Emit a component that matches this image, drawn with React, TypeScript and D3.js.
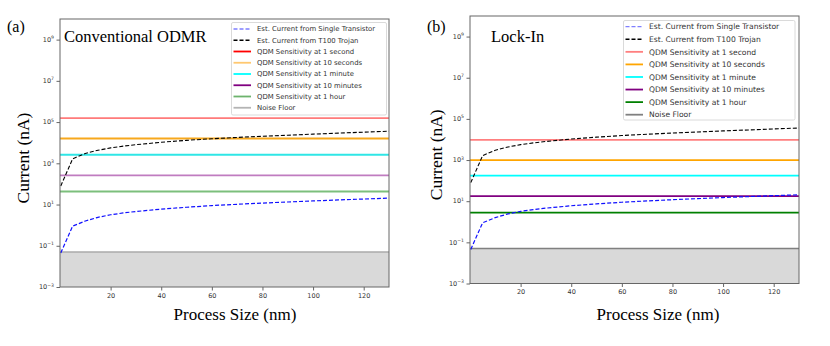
import { useEffect, useRef } from "react";
import * as d3 from "d3";

// process sizes (nm) and estimated currents (nA)
const processSize = [0.3, 5, 10, 15, 20, 25, 30, 40, 50, 60, 70, 80, 90, 100, 110, 120, 130];
const singleTransistor = [0.045, 0.9, 1.6, 2.4, 3.2, 3.9, 4.6, 6.0, 7.4, 8.9, 10.3, 11.8, 13.3, 15, 16.7, 18.5, 20.5];
const trojanT100 = [80, 1650, 3000, 4300, 5600, 6800, 8000, 10500, 13000, 15500, 18000, 20500, 23000, 26000, 29000, 32500, 36000];

// QDM sensitivity: 1 s, 10 s, 1 min, 10 min, 1 h
const sensConventional = [157000, 16000, 2600, 260, 43];
const sensLockIn = [9500, 1000, 173, 17.7, 2.8];
const noiseFloor = 0.05;

const legendLabels = [
  "Est. Current from Single Transistor",
  "Est. Current from T100 Trojan",
  "QDM Sensitivity at 1 second",
  "QDM Sensitivity at 10 seconds",
  "QDM Sensitivity at 1 minute",
  "QDM Sensitivity at 10 minutes",
  "QDM Sensitivity at 1 hour",
  "Noise Floor",
];

const xTicks = [20, 40, 60, 80, 100, 120];
const yTickExps = [-3, -1, 1, 3, 5, 7, 9];

const panels = [
  {
    tag: "(a)", title: "Conventional ODMR", ox: 0,
    plot: { left: 60, top: 19, right: 389, bottom: 287 },
    sens: sensConventional,
    lineColors: ["#ff7a7a", "#f7a81c", "#2fe6e6", "#c07cc0", "#7cbf7c"],
    noiseColor: "#aaaaaa",
    legendColors: ["#7f7fff", "#000", "#ff0000", "#ffc870", "#00ffff", "#800080", "#6db36d", "#b4b4b4"],
    legend: { x: 231.5, y: 22.5, w: 155, h: 92.5, row0: 29, step: 11.25, font: 6.9 },
    titleX: 64, titleY: 41.5, tagX: 7, yLabelX: 29, xLabelX: 235,
  },
  {
    tag: "(b)", title: "Lock-In", ox: 0,
    plot: { left: 470, top: 16, right: 799, bottom: 283.5 },
    sens: sensLockIn,
    lineColors: ["#ff7f7f", "#ffa500", "#00ffff", "#800080", "#008000"],
    noiseColor: "#808080",
    legendColors: ["#7f7fff", "#000", "#ff7f7f", "#ffa500", "#00ffff", "#800080", "#008000", "#808080"],
    legend: { x: 623.5, y: 20.5, w: 171.5, h: 99.5, row0: 26.7, step: 12.57, font: 7.6 },
    titleX: 491, titleY: 42, tagX: 427, yLabelX: 442, xLabelX: 658,
  },
];

const SERIF = "'Liberation Serif', 'DejaVu Serif', serif";
const SANS = "'DejaVu Sans', sans-serif";

const App = () => {
  const svgRef = useRef(null);

  useEffect(() => {
    const svg = d3.select(svgRef.current);
    svg.selectAll("*").remove();

    panels.forEach((p) => {
      const { left, top, right, bottom } = p.plot;
      const x = d3.scaleLinear().domain([0, 130]).range([left, right]);
      const y = d3.scaleLog().domain([1e-3, 1e10]).range([bottom, top]);
      const g = svg.append("g");

      // noise floor shading
      g.append("rect")
        .attr("x", left).attr("y", y(noiseFloor))
        .attr("width", right - left).attr("height", bottom - y(noiseFloor))
        .attr("fill", "#d9d9d9");

      p.sens.forEach((v, i) => {
        g.append("line")
          .attr("x1", left).attr("x2", right)
          .attr("y1", y(v)).attr("y2", y(v))
          .attr("stroke", p.lineColors[i]).attr("stroke-width", 1.8);
      });
      g.append("line")
        .attr("x1", left).attr("x2", right)
        .attr("y1", y(noiseFloor)).attr("y2", y(noiseFloor))
        .attr("stroke", p.noiseColor).attr("stroke-width", 1.5);

      const line = d3.line().x((d) => x(d[0])).y((d) => y(d[1]));
      g.append("path")
        .datum(processSize.map((s, i) => [s, trojanT100[i]]))
        .attr("d", line).attr("fill", "none")
        .attr("stroke", "#000").attr("stroke-width", 1.1).attr("stroke-dasharray", "4,2");
      g.append("path")
        .datum(processSize.map((s, i) => [s, singleTransistor[i]]))
        .attr("d", line).attr("fill", "none")
        .attr("stroke", "#1010ff").attr("stroke-width", 1.2).attr("stroke-dasharray", "4,2");

      // frame
      g.append("rect")
        .attr("x", left).attr("y", top)
        .attr("width", right - left).attr("height", bottom - top)
        .attr("fill", "none").attr("stroke", "#666").attr("stroke-width", 1);

      // x axis
      const xAxis = g.append("g").attr("transform", `translate(0,${bottom})`)
        .call(d3.axisBottom(x).tickValues(xTicks).tickSizeInner(3.5).tickSizeOuter(0).tickPadding(2.5));
      xAxis.select(".domain").remove();
      xAxis.selectAll("line").attr("stroke", "#666");
      xAxis.selectAll("text").attr("font-family", SANS).attr("font-size", 6.5).attr("fill", "#333");

      // y axis
      const yAxis = g.append("g").attr("transform", `translate(${left},0)`)
        .call(d3.axisLeft(y).tickValues(yTickExps.map((e) => Math.pow(10, e))).tickSizeInner(3.5).tickSizeOuter(0).tickFormat(() => ""));
      yAxis.select(".domain").remove();
      yAxis.selectAll("line").attr("stroke", "#666");
      yTickExps.forEach((e) => {
        const t = g.append("text")
          .attr("x", left - 6).attr("y", y(Math.pow(10, e)) + 2.3)
          .attr("text-anchor", "end")
          .attr("font-family", SANS).attr("font-size", 6.5).attr("fill", "#333");
        t.append("tspan").text("10");
        t.append("tspan").attr("dy", -2.8).attr("font-size", 4.6).text(e < 0 ? `\u2212${-e}` : `${e}`);
      });

      // legend
      const L = p.legend;
      g.append("rect")
        .attr("x", L.x).attr("y", L.y).attr("width", L.w).attr("height", L.h)
        .attr("rx", 1.5).attr("fill", "#fff").attr("fill-opacity", 0.85)
        .attr("stroke", "#d0d0d0").attr("stroke-width", 0.8);
      legendLabels.forEach((label, i) => {
        const ly = L.row0 + i * L.step;
        const hx = L.x + 2;
        g.append("line")
          .attr("x1", hx).attr("x2", hx + 17.5).attr("y1", ly).attr("y2", ly)
          .attr("stroke", p.legendColors[i])
          .attr("stroke-width", i < 2 ? 1.3 : 1.8)
          .attr("stroke-dasharray", i < 2 ? "4,2" : null);
        g.append("text")
          .attr("x", hx + 23.5).attr("y", ly + L.font * 0.36)
          .attr("font-family", SANS).attr("font-size", L.font).attr("fill", "#333")
          .text(label);
      });

      // titles and labels
      g.append("text").attr("x", p.tagX).attr("y", 32)
        .attr("font-family", SERIF).attr("font-size", 16).text(p.tag);
      g.append("text").attr("x", p.titleX).attr("y", p.titleY)
        .attr("font-family", SERIF).attr("font-size", 16.5).text(p.title);
      g.append("text").attr("x", p.xLabelX).attr("y", 320)
        .attr("text-anchor", "middle")
        .attr("font-family", SERIF).attr("font-size", 17).text("Process Size (nm)");
      g.append("text")
        .attr("transform", `translate(${p.yLabelX},${(top + bottom) / 2 + 5}) rotate(-90)`)
        .attr("text-anchor", "middle")
        .attr("font-family", SERIF).attr("font-size", 17.5).text("Current (nA)");
    });
  }, []);

  return (
    <svg
      ref={svgRef}
      width={830}
      height={346}
      style={{ position: "absolute", left: 0, top: 0, background: "#fff" }}
    />
  );
};

export default App;
